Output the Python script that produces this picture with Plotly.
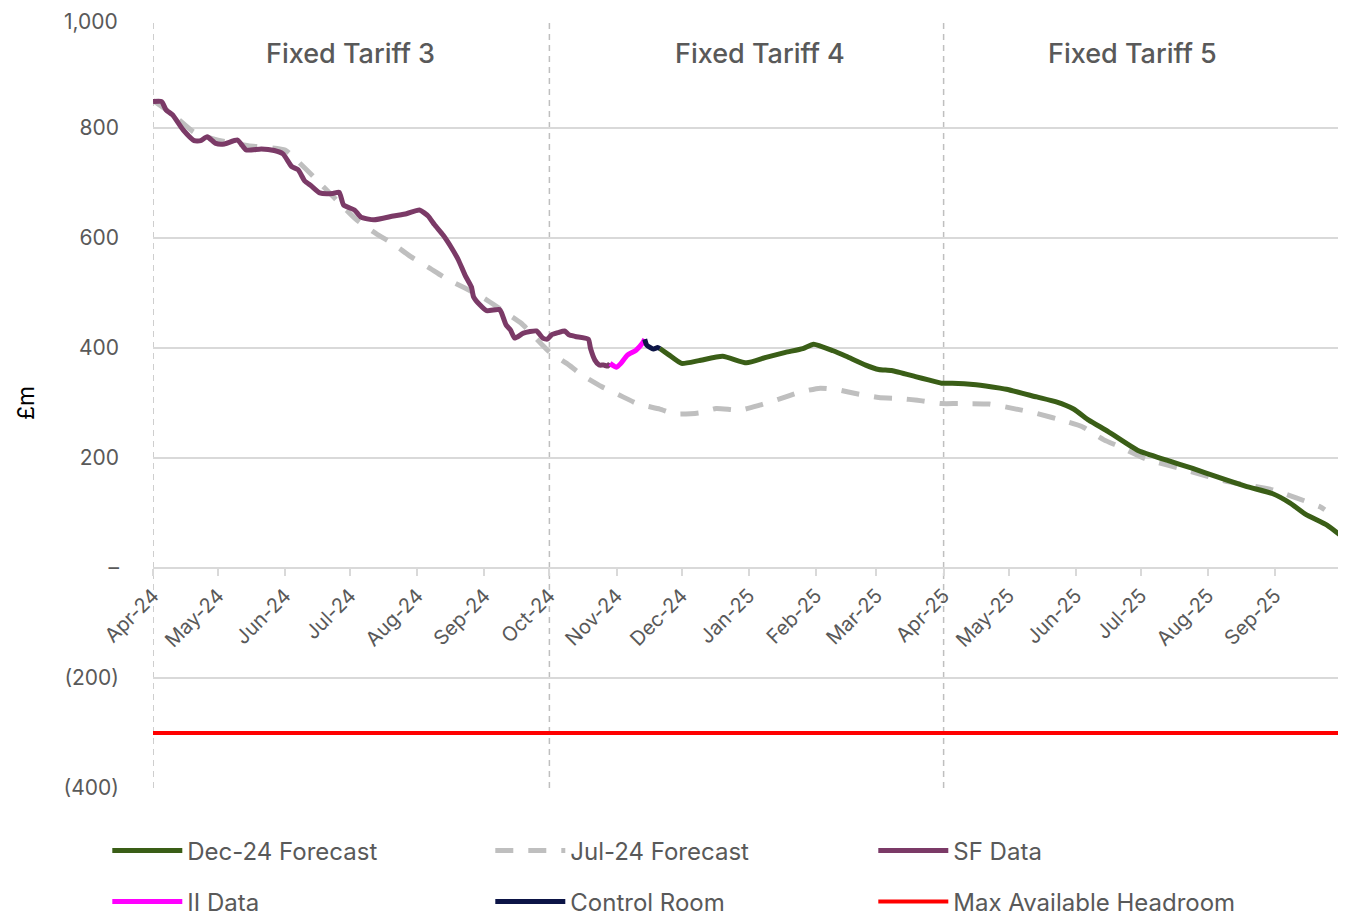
import plotly.graph_objects as go

# ---------------- data ----------------
sf_dates = ["2024-04-01","2024-04-05","2024-04-07","2024-04-10","2024-04-15","2024-04-20","2024-04-23","2024-04-26",
            "2024-04-30","2024-05-04","2024-05-10","2024-05-14","2024-05-21","2024-05-27","2024-05-31","2024-06-04",
            "2024-06-07","2024-06-10","2024-06-13","2024-06-17","2024-06-23","2024-06-26","2024-06-28","2024-07-03",
            "2024-07-06","2024-07-12","2024-07-21","2024-07-27","2024-08-02","2024-08-06","2024-08-09","2024-08-13",
            "2024-08-17","2024-08-20","2024-08-23","2024-08-26","2024-08-27","2024-08-30","2024-09-02","2024-09-08",
            "2024-09-09","2024-09-11","2024-09-13","2024-09-15","2024-09-19","2024-09-25","2024-09-28","2024-09-30",
            "2024-10-02","2024-10-05","2024-10-08","2024-10-10","2024-10-13","2024-10-19","2024-10-20","2024-10-22",
            "2024-10-24","2024-10-26","2024-10-28","2024-10-29"]
sf_values = [848,848,833,824,796,777,777,784,
             772,771,778,760,762,759,753,730,
             724,704,695,682,681,683,660,651,
             638,633,640,644,651,640,624,605,
             581,560,533,511,493,478,468,470,
             463,442,433,418,427,431,418,416,
             424,428,431,424,421,416,399,378,
             369,369,367,372]

ii_dates = ["2024-10-29","2024-11-01","2024-11-03","2024-11-06","2024-11-10","2024-11-13","2024-11-14"]
ii_values = [372,365,372,387,396,409,416]

cr_dates = ["2024-11-14","2024-11-15","2024-11-18","2024-11-20","2024-11-21"]
cr_values = [416,405,398,401,399]

dec_dates = ["2024-11-21","2024-11-25","2024-12-01","2024-12-09","2024-12-20","2024-12-31","2025-01-09","2025-01-18",
             "2025-01-26","2025-01-31","2025-02-09","2025-02-15","2025-02-24","2025-03-02","2025-03-08","2025-03-19",
             "2025-03-25","2025-03-31","2025-04-05","2025-04-16","2025-04-27","2025-04-30","2025-05-14","2025-05-23",
             "2025-05-31","2025-06-07","2025-06-16","2025-06-30","2025-07-13","2025-07-25","2025-08-05","2025-08-19",
             "2025-08-31","2025-09-08","2025-09-15","2025-09-25","2025-10-01"]
dec_values = [399,388,372,377,385,373,383,392,
              399,407,395,385,369,361,359,348,
              342,336,336,333,327,325,311,302,
              289,269,248,213,196,181,166,148,
              135,118,98,78,60]

jul_dates = ["2024-04-01","2024-04-10","2024-04-20","2024-05-01","2024-05-15","2024-06-01","2024-06-07","2024-06-14",
             "2024-07-04","2024-07-13","2024-07-21","2024-07-29","2024-08-06","2024-08-14","2024-08-23","2024-09-01",
             "2024-09-09","2024-09-18","2024-10-01","2024-10-09","2024-10-16","2024-10-25","2024-11-02","2024-11-11",
             "2024-11-21","2024-11-28","2024-12-09","2024-12-17","2024-12-28","2025-01-06","2025-01-15","2025-01-24",
             "2025-02-03","2025-02-11","2025-02-21","2025-03-02","2025-03-12","2025-03-20","2025-03-31","2025-04-08",
             "2025-04-22","2025-05-07","2025-05-14","2025-05-28","2025-06-04","2025-06-14","2025-06-21","2025-07-03",
             "2025-07-22","2025-08-09","2025-08-31","2025-09-22","2025-09-24"]
jul_values = [850,825,792,778,768,760,739,712,
              633,608,589,566,547,527,509,490,
              469,445,393,372,351,330,315,298,
              289,280,282,290,287,296,307,319,
              327,324,316,310,308,305,299,299,
              298,287,281,266,257,233,221,199,
              178,158,142,111,106]

headroom_dates = ["2024-04-01","2025-10-01"]
headroom_values = [-300,-300]

tariff_labels = ["Fixed Tariff 3","Fixed Tariff 4","Fixed Tariff 5"]
tariff_bounds = ["2024-04-01","2024-10-01","2025-04-01"]

month_ticks = ["2024-04-01","2024-05-01","2024-06-01","2024-07-01","2024-08-01","2024-09-01","2024-10-01",
               "2024-11-01","2024-12-01","2025-01-01","2025-02-01","2025-03-01","2025-04-01","2025-05-01",
               "2025-06-01","2025-07-01","2025-08-01","2025-09-01","2025-10-01"]
month_labels = ["Apr-24","May-24","Jun-24","Jul-24","Aug-24","Sep-24","Oct-24","Nov-24","Dec-24",
                "Jan-25","Feb-25","Mar-25","Apr-25","May-25","Jun-25","Jul-25","Aug-25","Sep-25",""]

y_ticks = [1000,800,600,400,200,0,-200,-400]
y_labels = ["1,000","800","600","400","200","–","(200)","(400)"]

# ---------------- figure ----------------
FONT = "Inter, Open Sans, sans-serif"
TXT = "#595959"
fig = go.Figure()

SM = dict(shape="spline", smoothing=0.5)
fig.add_trace(go.Scatter(x=jul_dates, y=jul_values, mode="lines", name="Jul-24 Forecast",
                         line=dict(color="#BFBFBF", width=5, dash="18px,15px", **SM), legendrank=2, legend="legend"))
fig.add_trace(go.Scatter(x=dec_dates, y=dec_values, mode="lines", name="Dec-24 Forecast",
                         line=dict(color="#3A5E17", width=5, **SM), legendrank=1, legend="legend"))
fig.add_trace(go.Scatter(x=sf_dates, y=sf_values, mode="lines", name="SF Data",
                         line=dict(color="#7B3A67", width=5, **SM), legendrank=3, legend="legend"))
fig.add_trace(go.Scatter(x=ii_dates, y=ii_values, mode="lines", name="II Data",
                         line=dict(color="#FF00FF", width=5, **SM), legendrank=4, legend="legend2"))
fig.add_trace(go.Scatter(x=cr_dates, y=cr_values, mode="lines", name="Control Room",
                         line=dict(color="#0C1446", width=5, **SM), legendrank=5, legend="legend2"))
fig.add_trace(go.Scatter(x=headroom_dates, y=headroom_values, mode="lines", name="Max Available Headroom",
                         line=dict(color="#FF0000", width=4), legendrank=6, legend="legend2"))

for b in tariff_bounds:
    fig.add_shape(type="line", xref="x", yref="paper", x0=b, x1=b, y0=0, y1=1,
                  line=dict(color="#BFBFBF", width=1.5, dash="6px,5px"), layer="below")

tariff_x = [0.1668, 0.5114, 0.8248]
for lab, xp in zip(tariff_labels, tariff_x):
    fig.add_annotation(text=lab, xref="paper", yref="paper", x=xp, y=0.9545, showarrow=False,
                       font=dict(family=FONT, size=27, color=TXT, weight=500), xanchor="center", yanchor="middle")

# top tick label drawn as annotation (nudged slightly so it is not clipped at the page edge)
tick_text_axis = [""] + y_labels[1:]
fig.add_annotation(text=y_labels[0], xref="paper", yref="y", x=0, y=y_ticks[0], xanchor="right",
                   yanchor="middle", xshift=-33, yshift=-3, showarrow=False,
                   font=dict(family=FONT, size=21, color=TXT))

legend_common = dict(orientation="h", xanchor="left", yanchor="middle", x=-0.0385,
                     font=dict(family=FONT, size=24, color=TXT), entrywidth=298, entrywidthmode="pixels",
                     bgcolor="rgba(0,0,0,0)", itemwidth=70)

fig.update_layout(
    width=1338, height=908,
    margin=dict(l=145, r=6, t=10, b=128, autoexpand=False),
    plot_bgcolor="white", paper_bgcolor="white",
    font=dict(family=FONT, color=TXT),
    showlegend=True,
    legend=dict(**legend_common, y=-0.0818),
    legend2=dict(**legend_common, y=-0.148),
    xaxis=dict(type="date", range=["2024-04-01", "2025-10-01"], anchor="free", position=400/1400,
               tickmode="array", tickvals=month_ticks, ticktext=month_labels, tickangle=-45,
               tickfont=dict(family=FONT, size=20, color=TXT), automargin=False,
               showgrid=False, showline=True, linecolor="#D9D9D9", linewidth=2,
               ticks="outside", ticklen=7, tickcolor="#D9D9D9", tickwidth=2, zeroline=False),
    yaxis=dict(range=[-400, 1000], tickmode="array", tickvals=y_ticks, ticktext=tick_text_axis,
               tickfont=dict(family=FONT, size=21, color=TXT), ticklabelstandoff=33, automargin=False,
               ticklabeloverflow="allow",
               showgrid=True, gridcolor="#D9D9D9", gridwidth=1.5, zeroline=False, showline=False,
               title=dict(text="£m", font=dict(family=FONT, size=23, color="black"), standoff=22)),
)

fig.write_html("out.html")
